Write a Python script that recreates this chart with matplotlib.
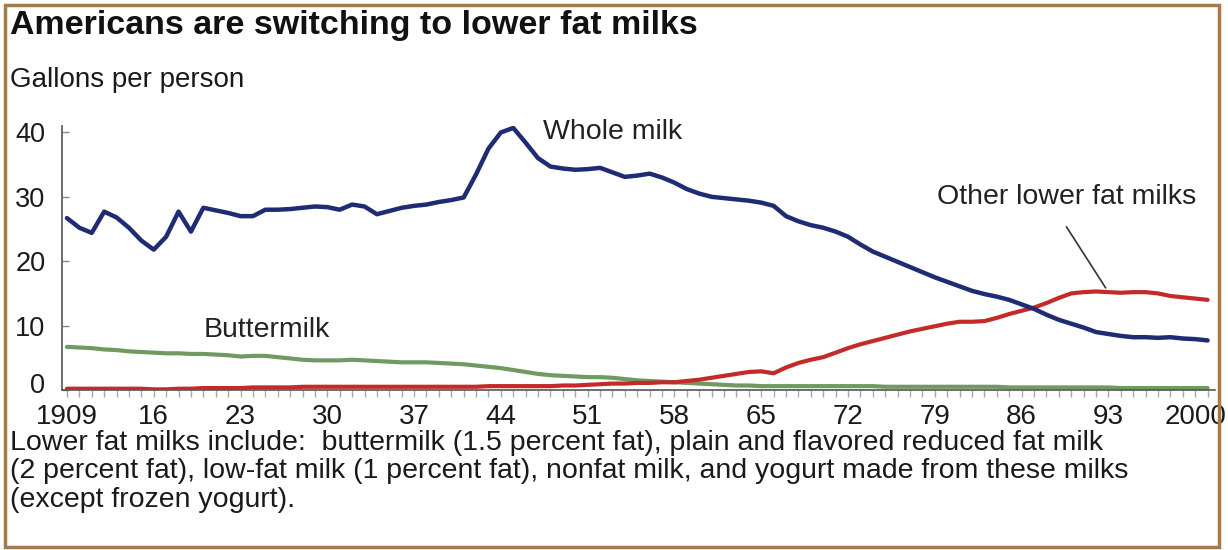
import matplotlib
matplotlib.use("Agg")
import matplotlib.pyplot as plt
from matplotlib.patches import Rectangle
from matplotlib.ticker import MultipleLocator, FixedLocator

plt.rcParams['font.family'] = ['Liberation Sans', 'DejaVu Sans']

years = list(range(1909, 2002))

whole_milk = [
    26.7, 25.2, 24.4, 27.7, 26.8, 25.2, 23.2, 21.8, 23.8, 27.7,   # 1909-1918
    24.6, 28.3, 27.9, 27.5, 27.0, 27.0, 28.0, 28.0, 28.1, 28.3,   # 1919-1928
    28.5, 28.4, 28.0, 28.8, 28.5, 27.3, 27.8, 28.3, 28.6, 28.8,   # 1929-1938
    29.2, 29.5, 29.9, 33.5, 37.5, 40.0, 40.7, 38.4, 36.0, 34.7,   # 1939-1948
    34.4, 34.2, 34.3, 34.5, 33.8, 33.1, 33.3, 33.6, 33.0, 32.2,   # 1949-1958
    31.2, 30.5, 30.0, 29.8, 29.6, 29.4, 29.1, 28.6, 27.0, 26.2,   # 1959-1968
    25.6, 25.2, 24.6, 23.8, 22.6, 21.5, 20.7, 19.9, 19.1, 18.3,   # 1969-1978
    17.5, 16.8, 16.1, 15.4, 14.9, 14.5, 14.0, 13.3, 12.6, 11.7,   # 1979-1988
    10.9, 10.3, 9.7, 9.0, 8.7, 8.4, 8.2, 8.2, 8.1, 8.2,           # 1989-1998
    8.0, 7.9, 7.7,                                                # 1999-2001
]

other_lower_fat = [
    0.2, 0.2, 0.2, 0.2, 0.2, 0.2, 0.2, 0.1, 0.1, 0.2,             # 1909-1918
    0.2, 0.3, 0.3, 0.3, 0.3, 0.4, 0.4, 0.4, 0.4, 0.5,             # 1919-1928
    0.5, 0.5, 0.5, 0.5, 0.5, 0.5, 0.5, 0.5, 0.5, 0.5,             # 1929-1938
    0.5, 0.5, 0.5, 0.5, 0.6, 0.6, 0.6, 0.6, 0.6, 0.6,             # 1939-1948
    0.7, 0.7, 0.8, 0.9, 1.0, 1.0, 1.1, 1.1, 1.2, 1.2,             # 1949-1958
    1.4, 1.6, 1.9, 2.2, 2.5, 2.8, 2.9, 2.6, 3.5, 4.2,             # 1959-1968
    4.7, 5.1, 5.8, 6.5, 7.1, 7.6, 8.1, 8.6, 9.1, 9.5,             # 1969-1978
    9.9, 10.3, 10.6, 10.6, 10.7, 11.2, 11.8, 12.3, 12.8, 13.5,    # 1979-1988
    14.3, 15.0, 15.2, 15.3, 15.2, 15.1, 15.2, 15.2, 15.0, 14.6,   # 1989-1998
    14.4, 14.2, 14.0,                                             # 1999-2001
]

buttermilk = [
    6.7, 6.6, 6.5, 6.3, 6.2, 6.0, 5.9, 5.8, 5.7, 5.7,             # 1909-1918
    5.6, 5.6, 5.5, 5.4, 5.2, 5.3, 5.3, 5.1, 4.9, 4.7,             # 1919-1928
    4.6, 4.6, 4.6, 4.7, 4.6, 4.5, 4.4, 4.3, 4.3, 4.3,             # 1929-1938
    4.2, 4.1, 4.0, 3.8, 3.6, 3.4, 3.1, 2.8, 2.5, 2.3,             # 1939-1948
    2.2, 2.1, 2.0, 2.0, 1.9, 1.7, 1.5, 1.4, 1.3, 1.2,             # 1949-1958
    1.1, 1.0, 0.9, 0.8, 0.7, 0.7, 0.6, 0.6, 0.6, 0.6,             # 1959-1968
    0.6, 0.6, 0.6, 0.6, 0.6, 0.6, 0.5, 0.5, 0.5, 0.5,             # 1969-1978
    0.5, 0.5, 0.5, 0.5, 0.5, 0.5, 0.4, 0.4, 0.4, 0.4,             # 1979-1988
    0.4, 0.4, 0.4, 0.4, 0.4, 0.3, 0.3, 0.3, 0.3, 0.3,             # 1989-1998
    0.3, 0.3, 0.3,                                                # 1999-2001
]

xtick_years = [1909, 1916, 1923, 1930, 1937, 1944, 1951, 1958, 1965, 1972, 1979, 1986, 1993, 2000]
xtick_labels = ['1909', '16', '23', '30', '37', '44', '51', '58', '65', '72', '79', '86', '93', '2000']
ytick_vals = [0, 10, 20, 30, 40]
ytick_labels = ['0', '10', '20', '30', '40']

title = "Americans are switching to lower fat milks"
subtitle = "Gallons per person"
footnote_lines = [
    "Lower fat milks include:  buttermilk (1.5 percent fat), plain and flavored reduced fat milk",
    "(2 percent fat), low-fat milk (1 percent fat), nonfat milk, and yogurt made from these milks",
    "(except frozen yogurt).",
]

W, H = 1228, 550
fig = plt.figure(figsize=(W / 100, H / 100), dpi=100)
fig.patch.set_facecolor('white')

# axes placement (pixels)
ax_left, ax_right, ax_top, ax_bottom = 62, 1215, 126, 390
ax = fig.add_axes([ax_left / W, 1 - ax_bottom / H, (ax_right - ax_left) / W, (ax_bottom - ax_top) / H])

c_whole = '#1f2b73'
c_red = '#c42a2a'
c_green = '#6f9a62'

ax.plot(years, buttermilk, color=c_green, lw=3.0, solid_capstyle='round', zorder=2)
ax.plot(years, other_lower_fat, color=c_red, lw=3.0, solid_capstyle='round', zorder=3)
ax.plot(years, whole_milk, color=c_whole, lw=3.2, solid_capstyle='round', zorder=4)

ax.set_xlim(1908.6, 2001.6)
ax.set_ylim(0, 41)

for s in ['top', 'right']:
    ax.spines[s].set_visible(False)
ax.spines['left'].set_color('#555555')
ax.spines['bottom'].set_color('#555555')
ax.spines['left'].set_linewidth(1.2)
ax.spines['bottom'].set_linewidth(1.2)

ax.xaxis.set_major_locator(FixedLocator(xtick_years))
ax.set_xticklabels(xtick_labels)
ax.xaxis.set_minor_locator(MultipleLocator(1))
ax.tick_params(axis='x', which='both', direction='out', length=5, width=1, color='#aaaaaa',
               labelsize=20, labelcolor='#1a1a1a', pad=5)

# y ticks: labels 10..40 via the axis; the "0" label is nudged up slightly so it
# does not collide with the "1909" label directly beneath it
ax.set_yticks(ytick_vals)
ax.set_yticklabels([''] + ytick_labels[1:])
ax.tick_params(axis='y', which='major', direction='in', length=5, width=1, color='#888888',
               labelsize=19.5, labelcolor='#1a1a1a', pad=12)
ax.annotate(ytick_labels[0], xy=(0, ytick_vals[0]), xycoords=('axes fraction', 'data'),
            xytext=(-12, 2.6), textcoords='offset points', ha='right', va='center',
            fontsize=19.5, color='#1a1a1a', annotation_clip=False)

# series labels
lab_fs = 20.5
ax.text(1953.0, 40.0, "Whole milk", fontsize=lab_fs, color='#222222', ha='center', va='center')
ax.text(1925.1, 9.3, "Buttermilk", fontsize=lab_fs, color='#222222', ha='center', va='center')
ax.text(1989.6, 30.0, "Other lower fat milks", fontsize=lab_fs, color='#222222', ha='center', va='center')
ax.annotate("", xy=(1992.9, 15.5), xytext=(1989.5, 25.7),
            arrowprops=dict(arrowstyle='-', color='#333333', lw=1.2))

# title & subtitle
fig.text(10 / W, 1 - 34 / H, title, fontsize=24.5, fontweight='bold', color='#111111',
         ha='left', va='baseline')
fig.text(10 / W, 1 - 87 / H, subtitle, fontsize=20, color='#1a1a1a', ha='left', va='baseline')

# footnote
for i, line in enumerate(footnote_lines):
    fig.text(10 / W, 1 - (450 + i * 28.5) / H, line, fontsize=20.5, color='#1a1a1a',
             ha='left', va='baseline')

# frame
fig.patches.append(Rectangle((5 / W, 3 / H), (1219 - 5) / W, (545 - 3) / H,
                             transform=fig.transFigure, fill=False,
                             edgecolor='#a27b55', lw=2.5, zorder=10))

fig.savefig('out.png', dpi=100)
